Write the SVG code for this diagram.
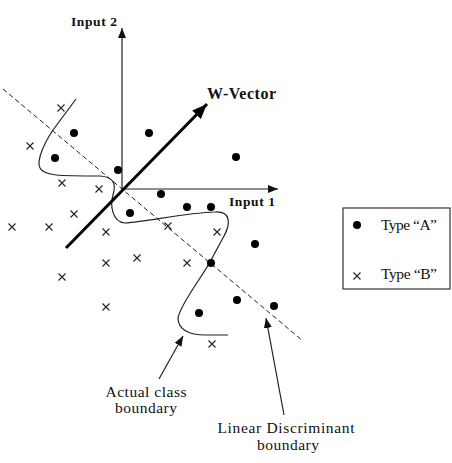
<svg xmlns="http://www.w3.org/2000/svg" xmlns:xlink="http://www.w3.org/1999/xlink" width="452" height="463" viewBox="0 0 452 463">
<style>
.bg{fill:#fff}
.ln{stroke:#222;stroke-width:1.2;fill:none}
.dash{stroke:#222;stroke-width:1;fill:none;stroke-dasharray:5,3}
.vec{stroke:#000;stroke-width:3;fill:none}
.dot{fill:#000}
.cross{stroke:#222;stroke-width:1.1;fill:none}
.lbl{font-family:"Liberation Serif",serif;font-size:15.5px;fill:#111}
.bold{font-family:"Liberation Serif",serif;font-weight:bold;fill:#111}
</style>
<defs>
<marker id="ah" markerUnits="userSpaceOnUse" markerWidth="11" markerHeight="8" refX="10" refY="4" orient="auto"><path d="M0,0 L10,4 L0,8 z" fill="#111"/></marker>
<marker id="ahBig" markerUnits="userSpaceOnUse" markerWidth="16" markerHeight="12" refX="15" refY="6" orient="auto"><path d="M0,0 L15,6 L0,12 z" fill="#000"/></marker>
<circle id="d" r="4"/>
<path id="x" d="M-3.5,-3.5 L3.5,3.5 M-3.5,3.5 L3.5,-3.5"/>
</defs>
<rect class="bg" x="0" y="0" width="452" height="463"/>

<g id="connectors">
<line class="dash" x1="3" y1="89" x2="303" y2="341"/>
<path id="actual-boundary" class="ln" d="M76,99 L53,130 C45,142 36,160 40,168 C44,176 60,176 100,176 C115,177 116,185 113,195 C110,205 112,222 125,223 C150,221 185,213 215,212 C232,211 230,225 224,236 L210,262 C200,280 180,305 178,318 C178,330 190,335 205,335 L228,335"/>
<line class="ln" x1="122" y1="189" x2="122" y2="28" marker-end="url(#ah)"/>
<line class="ln" x1="122" y1="189" x2="278" y2="189" marker-end="url(#ah)"/>
<line class="vec" x1="66" y1="248" x2="207" y2="104" marker-end="url(#ahBig)"/>
<line class="ln" x1="159" y1="379" x2="183" y2="336" marker-end="url(#ah)"/>
<line class="ln" x1="284" y1="415" x2="266" y2="318" marker-end="url(#ah)"/>
</g>

<g id="typeA" class="dot">
<use xlink:href="#d" x="74" y="133"/>
<use xlink:href="#d" x="149" y="133"/>
<use xlink:href="#d" x="236" y="157"/>
<use xlink:href="#d" x="55" y="158"/>
<use xlink:href="#d" x="118" y="170"/>
<use xlink:href="#d" x="161" y="194"/>
<use xlink:href="#d" x="187" y="207"/>
<use xlink:href="#d" x="211" y="207"/>
<use xlink:href="#d" x="130" y="213"/>
<use xlink:href="#d" x="255" y="244"/>
<use xlink:href="#d" x="211" y="263"/>
<use xlink:href="#d" x="237" y="300"/>
<use xlink:href="#d" x="274" y="306"/>
<use xlink:href="#d" x="199" y="313"/>
</g>

<g id="typeB" class="cross">
<use xlink:href="#x" x="61" y="108"/>
<use xlink:href="#x" x="30" y="146"/>
<use xlink:href="#x" x="62" y="183"/>
<use xlink:href="#x" x="99" y="189"/>
<use xlink:href="#x" x="74" y="214"/>
<use xlink:href="#x" x="12" y="227"/>
<use xlink:href="#x" x="49" y="227"/>
<use xlink:href="#x" x="106" y="232"/>
<use xlink:href="#x" x="168" y="226"/>
<use xlink:href="#x" x="217" y="232"/>
<use xlink:href="#x" x="137" y="258"/>
<use xlink:href="#x" x="106" y="263"/>
<use xlink:href="#x" x="187" y="263"/>
<use xlink:href="#x" x="62" y="277"/>
<use xlink:href="#x" x="106" y="307"/>
<use xlink:href="#x" x="212" y="344"/>
</g>

<g id="axis-labels">
<text class="bold" x="71" y="26" font-size="13.5" textLength="46">Input 2</text>
<text class="bold" x="229" y="206" font-size="13.5" textLength="46">Input 1</text>
<text class="bold" x="207" y="99" font-size="16" textLength="69">W-Vector</text>
</g>

<g id="label-actual">
<text class="lbl" x="146" y="397" text-anchor="middle" textLength="81">Actual class</text>
<text class="lbl" x="146" y="413" text-anchor="middle" textLength="62">boundary</text>
</g>

<g id="label-linear">
<text class="lbl" x="286" y="433" text-anchor="middle" textLength="137">Linear Discriminant</text>
<text class="lbl" x="288" y="450" text-anchor="middle" textLength="62">boundary</text>
</g>

<g id="legend">
<rect x="343" y="208" width="107" height="81" fill="#fff" stroke="#333" stroke-width="1.2"/>
<use xlink:href="#d" x="357" y="225" class="dot"/>
<text class="lbl" x="381" y="230" textLength="56">Type “A”</text>
<use xlink:href="#x" x="357" y="276" class="cross"/>
<text class="lbl" x="381" y="279" textLength="56">Type “B”</text>
</g>
</svg>
